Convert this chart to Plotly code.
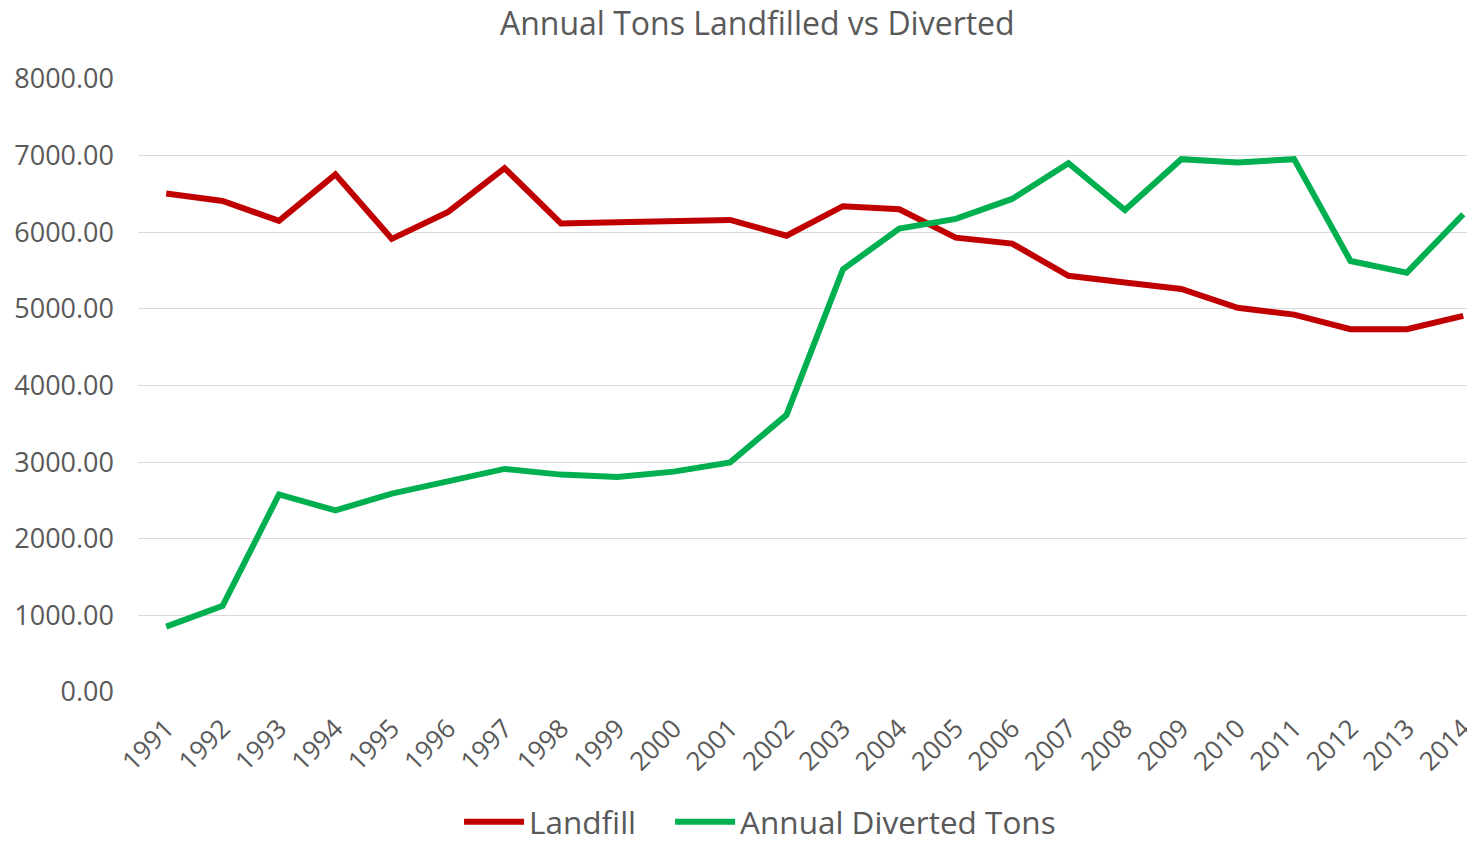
import plotly.graph_objects as go

years = [str(y) for y in range(1991, 2015)]
landfill = [6505, 6409, 6148, 6756, 5914, 6265, 6836, 6115, 6130, 6148, 6161, 5955,
            6340, 6300, 5930, 5852, 5432, 5345, 5260, 5015, 4925, 4735, 4735, 4908]
diverted = [853, 1124, 2578, 2370, 2588, 2749, 2911, 2837, 2806, 2876, 2997, 3617,
            5516, 6048, 6174, 6435, 6902, 6291, 6954, 6911, 6954, 5625, 5473, 6235]
y_ticks = [0, 1000, 2000, 3000, 4000, 5000, 6000, 7000, 8000]
y_tick_labels = [f"{v:.2f}" for v in y_ticks]

FONT = "Open Sans"
GRAY = "#595959"

xs = list(range(len(years)))
fig = go.Figure()
fig.add_trace(go.Scatter(x=xs, y=landfill, mode="lines", name="Landfill",
                         line=dict(color="#C00000", width=6), legend="legend"))
fig.add_trace(go.Scatter(x=xs, y=diverted, mode="lines", name="Annual Diverted Tons",
                         line=dict(color="#00B050", width=6), legend="legend2"))

legend_common = dict(orientation="h", xanchor="left", y=-0.2118, yanchor="middle",
                     font=dict(family=FONT, size=31.5, color=GRAY), itemwidth=60,
                     bgcolor="rgba(0,0,0,0)")

fig.update_layout(
    width=1475, height=842,
    paper_bgcolor="white", plot_bgcolor="white",
    margin=dict(l=130, r=0, t=71, b=158, autoexpand=False),
    title=dict(text="Annual Tons Landfilled vs Diverted", xref="container", x=0.508,
               xanchor="center", yref="container", y=0.981, yanchor="middle",
               font=dict(family=FONT, size=32, color=GRAY)),
    font=dict(family=FONT, color=GRAY),
    showlegend=True,
    legend=dict(x=0.2387, **legend_common),
    legend2=dict(x=0.3956, **legend_common),
    xaxis=dict(range=[-0.5, 23.35], tickmode="array", tickvals=xs,
               ticktext=years, tickangle=-45, showgrid=False, zeroline=False,
               showline=False, ticks="", automargin=False, ticklabeloverflow="allow",
               ticklabelstandoff=15,
               tickfont=dict(family=FONT, size=26, color=GRAY)),
    yaxis=dict(range=[0, 8000], tickmode="array", tickvals=y_ticks, ticktext=y_tick_labels,
               showgrid=True, gridcolor="#D9D9D9", gridwidth=1, zeroline=False,
               showline=False, ticks="", ticklabelstandoff=23, automargin=False,
               tickfont=dict(family=FONT, size=27, color=GRAY)),
)

fig.write_html("out.html")
